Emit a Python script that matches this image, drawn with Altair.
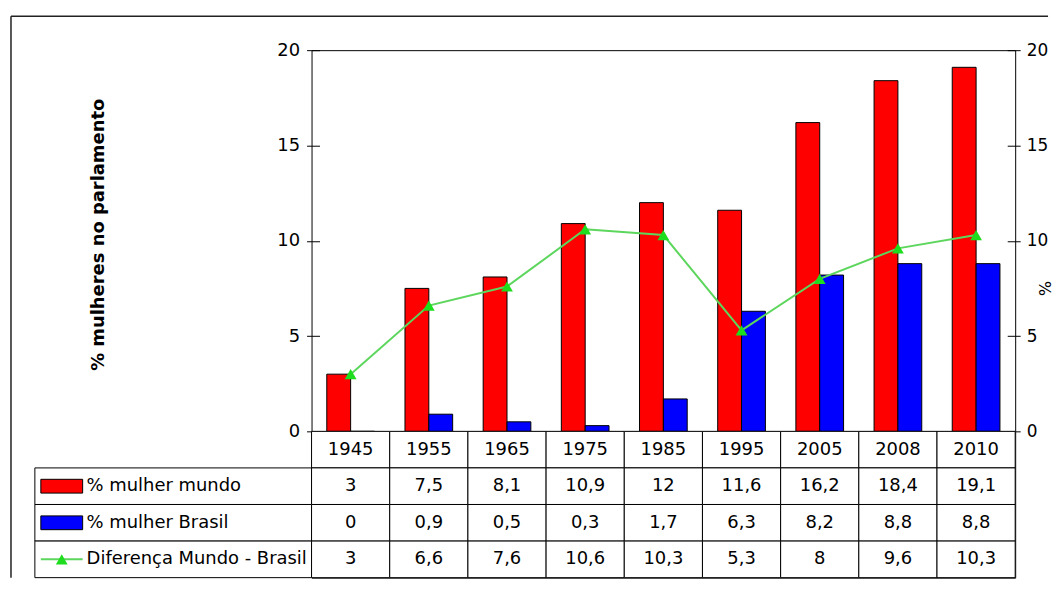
import altair as alt
import pandas as pd

# ---- data ----
years = ["1945", "1955", "1965", "1975", "1985", "1995", "2005", "2008", "2010"]
mundo = [3, 7.5, 8.1, 10.9, 12, 11.6, 16.2, 18.4, 19.1]
brasil = [0, 0.9, 0.5, 0.3, 1.7, 6.3, 8.2, 8.8, 8.8]
diferenca = [3, 6.6, 7.6, 10.6, 10.3, 5.3, 8, 9.6, 10.3]
series = ["% mulher mundo", "% mulher Brasil", "Diferença Mundo - Brasil"]
y_ticks = [0, 5, 10, 15, 20]
left_title = "% mulheres no parlamento"
right_title = "%"

# ---- styling ----
FONT = "DejaVu Sans"
FS = 18
RED = "#FF0000"
BLUE = "#0000FF"
GREEN_LINE = "#5CD65C"
GREEN_PT = "#1EDC1E"
FRAME = "#222222"
W, H = 707, 383      # plot area
LW = 278             # legend column of the data table
TH = 147             # data table height
HEADER = "ano"


def fmt(v):
    return f"{v:g}".replace(".", ",")


bars_df = pd.DataFrame({
    "year": years * 2,
    "serie": [series[0]] * len(years) + [series[1]] * len(years),
    "value": mundo + brasil,
})
line_df = pd.DataFrame({"year": years, "dif": diferenca})

xscale = alt.Scale(domain=years, paddingInner=0.39, paddingOuter=0.195)
yscale = alt.Scale(domain=[0, 20], nice=False)

axis_common = dict(
    values=y_ticks, offset=-8, tickSize=13, tickColor="black", tickWidth=1,
    domain=False, grid=False, labelFont=FONT,
    labelColor="black", titleFont=FONT, titleColor="black",
    titleAngle=270, titleAlign="center", titleBaseline="middle",
)

bars = alt.Chart(bars_df).mark_bar(stroke="black", strokeWidth=1).encode(
    x=alt.X("year:N", scale=xscale, axis=None),
    xOffset=alt.XOffset("serie:N", scale=alt.Scale(domain=series[:2])),
    y=alt.Y("value:Q", scale=yscale,
            axis=alt.Axis(orient="left", title=left_title, titleFontWeight="bold",
                          titleFontSize=18, labelFontSize=18, labelPadding=7,
                          titleX=-222, titleY=185, **axis_common)),
    color=alt.Color("serie:N", scale=alt.Scale(domain=series[:2], range=[RED, BLUE]),
                    legend=None),
)

line = alt.Chart(line_df).mark_line(
    color=GREEN_LINE, strokeWidth=2,
    point=alt.OverlayMarkDef(shape="triangle-up", filled=True, size=140,
                             color=GREEN_PT, opacity=1),
).encode(
    x=alt.X("year:N", scale=xscale, axis=None),
    y=alt.Y("dif:Q", scale=yscale,
            axis=alt.Axis(orient="right", title=right_title, titleFontWeight="normal",
                          titleFontSize=16, labelFontSize=17, labelPadding=6,
                          titleX=38, titleY=239, **axis_common)),
)

top = alt.layer(bars, line).resolve_scale(y="independent").properties(width=W, height=H)

# ---- data table ----
rows_domain = [HEADER] + series
cells = []
for i, yr in enumerate(years):
    cells.append({"year": yr, "row": HEADER, "label": yr})
    cells.append({"year": yr, "row": series[0], "label": fmt(mundo[i])})
    cells.append({"year": yr, "row": series[1], "label": fmt(brasil[i])})
    cells.append({"year": yr, "row": series[2], "label": fmt(diferenca[i])})
cells_df = pd.DataFrame(cells)

tx = alt.X("year:N", scale=alt.Scale(domain=years, paddingInner=0, paddingOuter=0), axis=None)
ty = alt.Y("row:N", scale=alt.Scale(domain=rows_domain, paddingInner=0, paddingOuter=0), axis=None)

table_rect = alt.Chart(cells_df).mark_rect(fill="white", stroke="black", strokeWidth=1).encode(x=tx, y=ty)
table_text = alt.Chart(cells_df).mark_text(font=FONT, fontSize=FS, color="black").encode(
    x=tx, y=ty, text="label:N")
table = alt.layer(table_rect, table_text).properties(width=W, height=TH)

# ---- legend column of the table ----
leg_df = pd.DataFrame({"row": series, "label": series})
leg_rect = alt.Chart(leg_df).mark_rect(fill="white", stroke="black", strokeWidth=1).encode(y=ty)
key_box = alt.Chart(leg_df.iloc[:2]).mark_point(
    shape="M-1,-0.33L1,-0.33L1,0.33L-1,0.33Z", size=1764, filled=True,
    stroke="black", strokeWidth=1, opacity=1,
).encode(
    x=alt.value(27), y=ty,
    fill=alt.Color("row:N", scale=alt.Scale(domain=series[:2], range=[RED, BLUE]), legend=None),
)
key_line = alt.Chart(leg_df.iloc[2:]).mark_point(
    shape="M-1,0L1,0", size=1764, filled=False, stroke=GREEN_LINE, strokeWidth=2, opacity=1,
).encode(x=alt.value(27), y=ty)
key_tri = alt.Chart(leg_df.iloc[2:]).mark_point(
    shape="triangle-up", size=140, filled=True, color=GREEN_PT, opacity=1,
).encode(x=alt.value(27), y=ty)
leg_text = alt.Chart(leg_df).mark_text(
    font=FONT, fontSize=FS, color="black", align="left", baseline="middle",
).encode(x=alt.value(52), y=ty, text="label:N")
legend_col = alt.layer(leg_rect, key_box, key_line, key_tri, leg_text).properties(
    width=LW, height=TH, view=alt.ViewBackground(stroke="transparent"))

# ---- top-left cell: carries the outer chart frame (top and left border) ----
frame_df = pd.DataFrame({"edge": ["top", "left"]})
frame_top = alt.Chart(frame_df.iloc[:1]).mark_rule(color=FRAME, strokeWidth=1.5).encode(
    x=alt.value(-24), x2=alt.value(1018), y=alt.value(-34))
frame_left = alt.Chart(frame_df.iloc[1:]).mark_rule(color=FRAME, strokeWidth=1.5).encode(
    x=alt.value(-24), y=alt.value(-34), y2=alt.value(H + TH))
spacer = alt.layer(frame_top, frame_left).properties(
    width=LW, height=H, view=alt.ViewBackground(stroke="transparent"))

chart = alt.concat(spacer, top, legend_col, table, columns=2, spacing=0, bounds="flush").properties(
    padding={"left": 1, "top": 5, "right": 0, "bottom": 0},
    background="white",
).configure_view(stroke="black", strokeWidth=1)

chart.save("out.html", embed_options={"renderer": "svg", "actions": False})
